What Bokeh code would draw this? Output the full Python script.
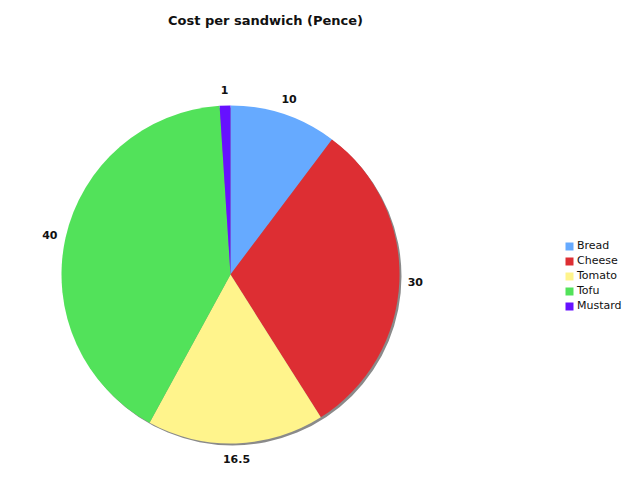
import math
from bokeh.plotting import figure
from bokeh.models import Range1d, ColumnDataSource, Legend, LegendItem, Label
from bokeh.core.properties import value
from bokeh.embed import file_html
from bokeh.resources import INLINE

# Data
categories = ["Bread", "Cheese", "Tomato", "Tofu", "Mustard"]
costs = [10, 30, 16.5, 40, 1]
colors = ["#66aaff", "#dd2e33", "#fff48c", "#52e25a", "#6611ff"]
value_labels = ["10", "30", "16.5", "40", "1"]

# Layout (page pixel coordinates, y measured up from bottom of 502 window)
W, H = 640, 502
CX, CY = 230, H - 274
R = 169
LABEL_R = 185
FONT = "DejaVu Sans"

p = figure(width=W - 16, height=H - 16, output_backend="svg", toolbar_location=None,
           x_range=Range1d(0, W - 16), y_range=Range1d(16, H),
           min_border=0, outline_line_color=None)
p.axis.visible = False
p.grid.visible = False
p.background_fill_color = "white"

total = sum(costs)
starts, ends, lx, ly = [], [], [], []
cum = 0.0
for c in costs:
    a0 = math.pi / 2 - cum / total * 2 * math.pi
    a1 = math.pi / 2 - (cum + c) / total * 2 * math.pi
    mid = (a0 + a1) / 2
    starts.append(a0)
    ends.append(a1)
    lx.append(CX + LABEL_R * math.cos(mid))
    ly.append(CY + LABEL_R * math.sin(mid))
    cum += c

src = ColumnDataSource(dict(cat=categories, cost=costs, color=colors, start=starts,
                            end=ends, lx=lx, ly=ly, lab=value_labels))

# shadow
p.circle(x=[CX + 2], y=[CY - 2], radius=R, fill_color="#8a8a8a", line_color=None)

p.wedge(x=CX, y=CY, radius=R, start_angle="start", end_angle="end", direction="clock",
        fill_color="color", line_color=None, source=src)

p.text(x="lx", y="ly", text="lab", source=src, text_font=value(FONT),
       text_font_style="bold", text_font_size="11px", text_align="center",
       text_baseline="middle", text_color="#111111")

# legend (swatch renderers placed outside the visible range)
items = []
for cat, col in zip(categories, colors):
    r = p.quad(left=[-1000], right=[-990], bottom=[-1000], top=[-990],
               fill_color=col, line_color=None)
    items.append(LegendItem(label=cat, renderers=[r]))

legend = Legend(items=items, location=(564, 173), padding=0, margin=0, spacing=0,
                glyph_width=10, glyph_height=10, label_height=15, label_standoff=3,
                label_text_font=FONT, label_text_font_size="11px",
                label_text_color="#111111", label_text_baseline="middle",
                border_line_color=None, background_fill_alpha=0)
p.add_layout(legend, "center")

title = Label(x=265, y=H - 20, text="Cost per sandwich (Pence)", text_font=FONT,
              text_font_style="bold", text_font_size="13px", text_align="center",
              text_baseline="middle", text_color="#111111")
p.add_layout(title)

open("out.html", "w").write(file_html(p, INLINE))
